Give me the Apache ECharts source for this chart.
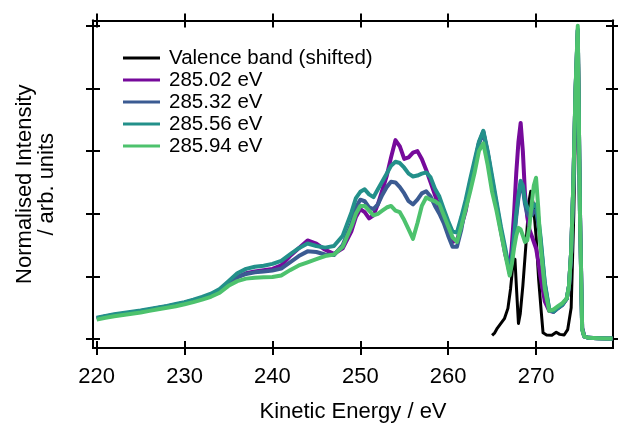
<!DOCTYPE html>
<html><head><meta charset="utf-8">
<script src="https://cdn.jsdelivr.net/npm/echarts@6/dist/echarts.min.js"></script>
<style>html,body{margin:0;padding:0;background:#fff}#c{width:618px;height:428px}</style>
</head><body><div id="c"></div><script>
// Shared kinetic-energy grid (eV) for the four spectra
const energies = [220,221,222,223,224,225,226,227,228,229,230,231,232,233,234,235,236,237,238,239,240,241,242,243,244,245,246,247,248,249,
249.5,250,250.5,251,251.5,252,252.5,253,253.5,254,254.5,255,255.5,256,256.5,257,257.5,258,258.5,259,259.5,260,260.5,261,261.5,262,262.5,263,263.5,264,264.5,265,265.5,266,266.5,267,
267.25,267.5,267.75,268,268.25,268.5,268.75,269,269.25,269.5,269.75,270,270.25,270.5,
271,271.5,272,272.5,273,273.5,
273.75,274,274.25,274.5,274.75,275,275.25,275.5,
276,277,278,278.7];

const int28502 = [0.066,0.072,0.077,0.081,0.085,0.089,0.094,0.099,0.104,0.110,0.116,0.123,0.132,0.142,0.156,0.178,0.198,0.210,0.216,0.220,0.224,0.235,0.265,0.290,0.315,0.305,0.285,0.272,0.290,0.345,
0.390,0.415,0.405,0.385,0.395,0.430,0.475,0.520,0.580,0.635,0.615,0.575,0.580,0.595,0.600,0.575,0.540,0.500,0.460,0.420,0.380,0.345,0.310,0.315,0.360,0.410,0.490,0.555,0.625,0.662,0.590,0.505,0.425,0.345,0.270,0.220,
0.30,0.40,0.53,0.63,0.69,0.60,0.46,0.39,0.35,0.33,0.31,0.29,0.25,0.20,
0.12,0.09,0.087,0.099,0.109,0.129,
0.168,0.278,0.495,0.795,0.985,0.41,0.035,0.008,
0.004,0.003,0.002,0.002];

const int28532 = [0.066,0.072,0.077,0.081,0.085,0.089,0.094,0.099,0.104,0.110,0.116,0.123,0.132,0.142,0.156,0.178,0.198,0.208,0.213,0.216,0.219,0.225,0.245,0.265,0.280,0.278,0.270,0.268,0.300,0.370,
0.420,0.445,0.440,0.420,0.415,0.430,0.460,0.485,0.502,0.500,0.485,0.465,0.440,0.430,0.445,0.465,0.472,0.455,0.425,0.400,0.370,0.330,0.295,0.295,0.350,0.430,0.500,0.560,0.625,0.658,0.595,0.510,0.430,0.350,0.280,0.210,
0.25,0.32,0.39,0.45,0.495,0.48,0.43,0.40,0.39,0.395,0.41,0.41,0.37,0.32,
0.175,0.093,0.087,0.099,0.109,0.129,
0.168,0.278,0.495,0.795,0.985,0.41,0.035,0.008,
0.004,0.003,0.002,0.002];

const int28556 = [0.068,0.074,0.079,0.083,0.087,0.091,0.096,0.101,0.106,0.112,0.118,0.126,0.135,0.145,0.160,0.185,0.210,0.224,0.231,0.234,0.240,0.250,0.270,0.290,0.305,0.297,0.292,0.297,0.330,0.405,
0.450,0.470,0.478,0.462,0.453,0.478,0.503,0.528,0.553,0.566,0.562,0.547,0.528,0.519,0.522,0.528,0.532,0.516,0.480,0.455,0.415,0.377,0.343,0.340,0.390,0.445,0.510,0.570,0.630,0.665,0.600,0.520,0.440,0.360,0.290,0.215,
0.26,0.33,0.40,0.46,0.505,0.49,0.44,0.42,0.41,0.415,0.43,0.43,0.39,0.33,
0.18,0.095,0.088,0.100,0.110,0.130,
0.170,0.280,0.500,0.800,0.990,0.400,0.030,0.008,
0.004,0.003,0.002,0.002];

const int28594 = [0.062,0.068,0.073,0.077,0.081,0.085,0.090,0.095,0.100,0.105,0.111,0.118,0.126,0.135,0.148,0.170,0.185,0.193,0.196,0.197,0.198,0.203,0.220,0.235,0.245,0.255,0.265,0.270,0.295,0.360,
0.400,0.425,0.425,0.410,0.395,0.400,0.410,0.420,0.425,0.410,0.405,0.380,0.350,0.320,0.370,0.425,0.452,0.445,0.440,0.430,0.395,0.360,0.325,0.310,0.360,0.415,0.470,0.530,0.600,0.625,0.555,0.470,0.410,0.340,0.270,0.203,
0.24,0.29,0.33,0.355,0.35,0.33,0.31,0.315,0.36,0.43,0.49,0.515,0.42,0.30,
0.16,0.09,0.095,0.105,0.115,0.13,
0.17,0.28,0.50,0.80,1.0,0.40,0.03,0.008,
0.004,0.003,0.002,0.002];

// Valence band (shifted)
const vbEnergies = [265.0,265.3,265.6,266.0,266.4,266.8,267.1,267.4,267.6,267.8,268.0,268.2,268.5,268.9,269.2,269.4,269.7,270.0,270.3,270.6,270.8,271.2,271.8,272.3,272.7,273.2,273.6,274.0,274.3,274.6,274.8,275.0,275.2,275.4];
const vbIntensity = [0.012,0.020,0.035,0.050,0.065,0.098,0.160,0.245,0.255,0.150,0.050,0.080,0.170,0.320,0.440,0.472,0.430,0.330,0.190,0.085,0.020,0.013,0.012,0.022,0.015,0.013,0.030,0.100,0.400,0.850,0.980,0.450,0.050,0.010];

const seriesNames = ['Valence band (shifted)','285.02 eV','285.32 eV','285.56 eV','285.94 eV'];
const xTicks = [220,230,240,250,260,270];
const yTicks = [0,0.2,0.4,0.6,0.8,1.0];
const colors = ['#000000','#760a9b','#3b5b92','#23908a','#4dc26d'];

const X_MIN = 219.58, X_MAX = 278.76, Y_MIN = -0.0285, Y_MAX = 1.017;
const FONT = '"Liberation Sans", Arial, sans-serif';

function pairs(xs, ys){ return xs.map((x,i)=>[x, ys[i]]); }

function xAx(pos, inside, main){
  return {
    type:'value', position:pos, min:X_MIN, max:X_MAX, gridIndex:0,
    axisLine:{show:true, onZero:false, lineStyle:{color:'#000', width:2}},
    axisTick:{show:true, inside:inside, length:7, customValues:xTicks, lineStyle:{color:'#000', width:2}},
    axisLabel:{show:main, customValues:xTicks, margin:18, fontSize:22, color:'#000', fontFamily:FONT},
    splitLine:{show:false},
    name: main ? 'Kinetic Energy / eV' : '',
    nameLocation:'middle', nameGap:53,
    nameTextStyle:{fontSize:22, color:'#000', fontFamily:FONT}
  };
}
function yAx(pos, inside, main){
  return {
    type:'value', position:pos, min:Y_MIN, max:Y_MAX, gridIndex:0,
    axisLine:{show:true, onZero:false, lineStyle:{color:'#000', width:2}},
    axisTick:{show:true, inside:inside, length:7, customValues:yTicks, lineStyle:{color:'#000', width:2}},
    axisLabel:{show:false},
    splitLine:{show:false},
    name: main ? 'Normalised Intensity\n/ arb. units' : '',
    nameLocation:'middle', nameGap:35, nameRotate:90,
    nameTextStyle:{fontSize:22, lineHeight:22, color:'#000', fontFamily:FONT, align:'center'}
  };
}

const spectra = [
  pairs(vbEnergies, vbIntensity),
  pairs(energies, int28502),
  pairs(energies, int28532),
  pairs(energies, int28556),
  pairs(energies, int28594)
];

const chart = echarts.init(document.getElementById('c'), null, {renderer:'canvas'});
chart.setOption({
  animation:false,
  backgroundColor:'#fff',
  grid:{left:93, right:5, top:20.5, bottom:77.5, containLabel:false},
  xAxis:[xAx('bottom', false, true), xAx('bottom', true, false), xAx('top', false, false), xAx('top', true, false)],
  yAxis:[yAx('left', false, true), yAx('left', true, false), yAx('right', false, false), yAx('right', true, false)],
  legend:{
    orient:'vertical', left:123, top:47, padding:0, itemWidth:37, itemHeight:3, itemGap:0,
    icon:'rect',
    textStyle:{fontSize:20.5, lineHeight:22, color:'#000', fontFamily:FONT, padding:[0,0,0,4]},
    data:seriesNames
  },
  series: spectra.map((d,i)=>({
    name:seriesNames[i], type:'line', data:d, showSymbol:false, symbol:'none',
    xAxisIndex:0, yAxisIndex:0,
    lineStyle:{color:colors[i], width:i===0?3:4, join:'round'},
    itemStyle:{color:colors[i]},
    smooth:false
  }))
});
</script></body></html>
